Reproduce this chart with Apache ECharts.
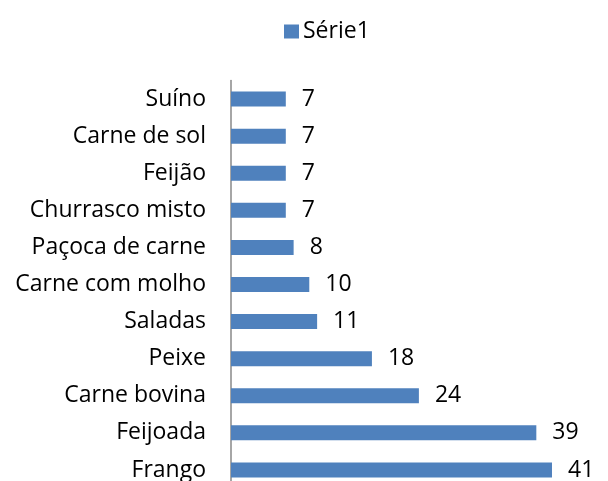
<!DOCTYPE html>
<html><head><meta charset="utf-8">
<script src="https://cdn.jsdelivr.net/npm/echarts@6/dist/echarts.min.js"></script>
<style>html,body{margin:0;padding:0;background:#fff}#c{width:608px;height:481px}</style>
</head><body><div id="c"></div>
<script>
const categories = ["Frango","Feijoada","Carne bovina","Peixe","Saladas","Carne com molho","Paçoca de carne","Churrasco misto","Feijão","Carne de sol","Suíno"];
const values = [41,39,24,18,11,10,8,7,7,7,7];
const seriesName = "Série1";
const FONT = "Open Sans";
const chart = echarts.init(document.getElementById('c'), null, {renderer:'canvas'});
chart.setOption({
  animation:false,
  legend:{top:15,left:279,itemWidth:15,itemHeight:14,itemGap:6,icon:'rect',
    textStyle:{fontFamily:FONT,fontSize:23,color:'#000',padding:[0,0,0,-1]},data:[seriesName]},
  grid:{left:231,top:80.5,width:352.3,height:408,containLabel:false,outerBoundsMode:'none'},
  xAxis:{type:'value',min:0,max:45,show:false},
  yAxis:{type:'category',data:categories,
    axisLine:{show:true,lineStyle:{color:'#888',width:1.5}},
    axisTick:{show:false},
    axisLabel:{fontFamily:FONT,fontSize:23,color:'#000',margin:25}},
  series:[{name:seriesName,type:'bar',data:values,barWidth:15,
    itemStyle:{color:'#4F81BD'},
    label:{show:true,position:'right',distance:16,fontFamily:FONT,fontSize:23,color:'#000'}}]
});
</script></body></html>
